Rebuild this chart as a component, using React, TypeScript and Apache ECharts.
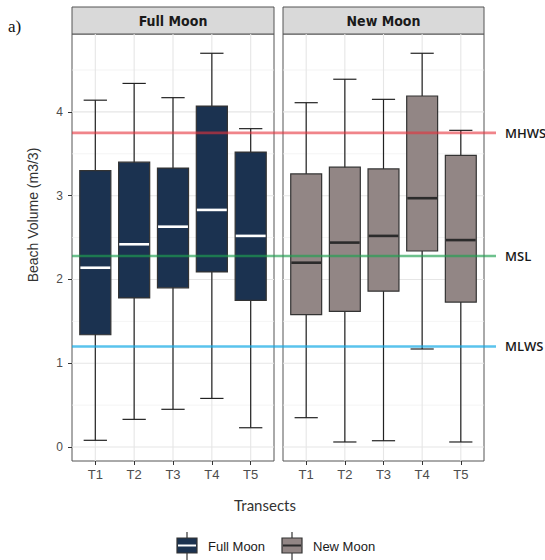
import React, { useEffect, useRef } from "react";
import * as echarts from "echarts";

// ---- data ----
const transects = ["T1", "T2", "T3", "T4", "T5"];
const fullMin = [0.08, 0.33, 0.45, 0.58, 0.23];
const fullQ1 = [1.34, 1.78, 1.9, 2.09, 1.75];
const fullMed = [2.14, 2.42, 2.63, 2.83, 2.52];
const fullQ3 = [3.3, 3.4, 3.33, 4.07, 3.52];
const fullMax = [4.14, 4.34, 4.17, 4.7, 3.8];

const newMin = [0.35, 0.06, 0.075, 1.17, 0.06];
const newQ1 = [1.58, 1.62, 1.86, 2.34, 1.73];
const newMed = [2.2, 2.44, 2.52, 2.97, 2.47];
const newQ3 = [3.26, 3.34, 3.32, 4.19, 3.48];
const newMax = [4.11, 4.39, 4.15, 4.7, 3.78];

const panelNames = ["Full Moon", "New Moon"];
const yTicks = [0, 1, 2, 3, 4];
const yMinorGrid = [0.5, 1.5, 2.5, 3.5, 4.5];
const refNames = ["MHWS", "MSL", "MLWS"];
const refValues = [3.75, 2.28, 1.2];

// ---- styling ----
const Y_MIN = -0.167;
const Y_MAX = 4.93;
const X_MIN = 0.4;
const X_MAX = 5.6;
const refColors = ["rgba(230,50,60,0.6)", "rgba(30,160,80,0.65)", "rgba(20,170,230,0.7)"];
const fills = ["#1b3250", "#928685"];
const medColors = ["#ffffff", "#2b2b2b"];
const sans = '"Liberation Sans", Arial, sans-serif';
const narrow = '"Liberation Sans Narrow", "DejaVu Sans Condensed", sans-serif';

const xCats = transects.map((_, i) => i + 1);

function boxData(mins: number[], q1: number[], med: number[], q3: number[], max: number[]) {
  return xCats.map((x, i) => [x, mins[i], q1[i], med[i], q3[i], max[i]]);
}

const gridData = [
  ...yTicks.map((v) => [0, v, 1]),
  ...yMinorGrid.map((v) => [0, v, 0]),
  ...xCats.map((v) => [1, v, 1]),
];

function gridSeries(idx: number) {
  return {
    type: "custom",
    xAxisIndex: idx,
    yAxisIndex: idx,
    z: 1,
    silent: true,
    data: gridData,
    encode: { x: -1, y: -1 },
    renderItem: (params: any, api: any) => {
      const kind = api.value(0);
      const v = api.value(1);
      const major = api.value(2) === 1;
      let p1, p2;
      if (kind === 0) {
        p1 = api.coord([X_MIN, v]);
        p2 = api.coord([X_MAX, v]);
      } else {
        p1 = api.coord([v, Y_MIN]);
        p2 = api.coord([v, Y_MAX]);
      }
      return {
        type: "line",
        shape: { x1: p1[0], y1: p1[1], x2: p2[0], y2: p2[1] },
        style: { stroke: major ? "#e6e6e6" : "#efefef", lineWidth: major ? 1.1 : 0.7 },
      };
    },
  };
}

function boxSeries(idx: number, data: number[][]) {
  return {
    type: "custom",
    name: panelNames[idx],
    xAxisIndex: idx,
    yAxisIndex: idx,
    z: 3,
    data,
    encode: { x: 0, y: [1, 2, 3, 4, 5] },
    renderItem: (params: any, api: any) => {
      const x = api.value(0);
      const unit = api.size([1, 0])[0];
      const pMin = api.coord([x, api.value(1)]);
      const pQ1 = api.coord([x, api.value(2)]);
      const pMed = api.coord([x, api.value(3)]);
      const pQ3 = api.coord([x, api.value(4)]);
      const pMax = api.coord([x, api.value(5)]);
      const cx = pMin[0];
      const bw = unit * 0.8;
      const cw = unit * 0.6;
      const wStyle = { stroke: "#222", lineWidth: 1.2 };
      return {
        type: "group",
        children: [
          { type: "line", shape: { x1: cx, y1: pMax[1], x2: cx, y2: pMin[1] }, style: wStyle },
          { type: "line", shape: { x1: cx - cw / 2, y1: pMax[1], x2: cx + cw / 2, y2: pMax[1] }, style: wStyle },
          { type: "line", shape: { x1: cx - cw / 2, y1: pMin[1], x2: cx + cw / 2, y2: pMin[1] }, style: wStyle },
          {
            type: "rect",
            shape: { x: cx - bw / 2, y: pQ3[1], width: bw, height: pQ1[1] - pQ3[1] },
            style: { fill: fills[idx], stroke: "#333", lineWidth: 1.2 },
          },
          {
            type: "line",
            shape: { x1: cx - bw / 2 + 0.6, y1: pMed[1], x2: cx + bw / 2 - 0.6, y2: pMed[1] },
            style: { stroke: medColors[idx], lineWidth: 2.6 },
          },
        ],
      };
    },
  };
}

function xAxis(idx: number) {
  return {
    type: "value",
    gridIndex: idx,
    min: X_MIN,
    max: X_MAX,
    axisLine: { show: false, onZero: false },
    axisTick: { show: true, customValues: xCats, length: 4, lineStyle: { color: "#333", width: 1 } },
    axisLabel: {
      show: true,
      customValues: xCats,
      formatter: (v: number) => transects[Math.round(v) - 1] ?? "",
      margin: 7,
      fontSize: 13,
      color: "#4d4d4d",
      fontFamily: sans,
    },
    splitLine: { show: false },
  };
}

function yAxis(idx: number, labels: boolean) {
  return {
    type: "value",
    gridIndex: idx,
    min: Y_MIN,
    max: Y_MAX,
    axisLine: { show: false, onZero: false },
    axisTick: { show: labels, customValues: yTicks, length: 4, lineStyle: { color: "#333", width: 1 } },
    axisLabel: {
      show: labels,
      customValues: yTicks,
      margin: 9,
      fontSize: 12,
      color: "#4d4d4d",
      fontFamily: sans,
    },
    splitLine: { show: false },
  };
}

function strip(x: number, w: number, label: string) {
  return {
    type: "group",
    children: [
      { type: "rect", shape: { x, y: 7, width: w, height: 27 }, style: { fill: "#d9d9d9", stroke: "#555", lineWidth: 1 } },
      {
        type: "text",
        x: x + w / 2,
        y: 21,
        style: { text: label, align: "center", verticalAlign: "middle", font: `bold 14px ${narrow}`, fill: "#1a1a1a" },
      },
    ],
  };
}

function legendKey(x: number, idx: number, label: string) {
  const w = 20;
  const cx = x + w / 2;
  return {
    type: "group",
    children: [
      { type: "line", shape: { x1: cx, y1: 532, x2: cx, y2: 560 }, style: { stroke: "#333", lineWidth: 1.2 } },
      { type: "rect", shape: { x, y: 538, width: w, height: 15 }, style: { fill: fills[idx], stroke: "#333", lineWidth: 1.2 } },
      { type: "line", shape: { x1: x + 1, y1: 545.5, x2: x + w - 1, y2: 545.5 }, style: { stroke: medColors[idx], lineWidth: 2 } },
      {
        type: "text",
        x: x + w + 11,
        y: 546,
        style: { text: label, align: "left", verticalAlign: "middle", font: `13px ${sans}`, fill: "#1a1a1a" },
      },
    ],
  };
}

export default function App() {
  const ref = useRef<HTMLDivElement>(null);
  useEffect(() => {
    document.body.style.margin = "0";
    if (!ref.current) return;
    const chart = echarts.init(ref.current, undefined, { renderer: "svg" });
    const option: any = {
      animation: false,
      backgroundColor: "#ffffff",
      grid: [
        { left: 72, top: 34, width: 202, height: 427, show: true, borderColor: "#555", borderWidth: 1, backgroundColor: "#fff" },
        { left: 283, top: 34, width: 201, height: 427, show: true, borderColor: "#555", borderWidth: 1, backgroundColor: "#fff" },
        { left: 72, top: 34, width: 424, height: 427, show: false },
      ],
      xAxis: [xAxis(0), xAxis(1), { type: "value", gridIndex: 2, min: 0, max: 1, show: false }],
      yAxis: [yAxis(0, true), yAxis(1, false), { type: "value", gridIndex: 2, min: Y_MIN, max: Y_MAX, show: false }],
      series: [
        gridSeries(0),
        gridSeries(1),
        boxSeries(0, boxData(fullMin, fullQ1, fullMed, fullQ3, fullMax)),
        boxSeries(1, boxData(newMin, newQ1, newMed, newQ3, newMax)),
        ...refNames.map((name, i) => ({
          type: "line",
          name,
          xAxisIndex: 2,
          yAxisIndex: 2,
          z: 10,
          silent: true,
          symbol: "none",
          data: [
            [0, refValues[i]],
            [1, refValues[i]],
          ],
          lineStyle: { color: refColors[i], width: 2.6 },
          endLabel: {
            show: true,
            formatter: name,
            distance: 9,
            color: "#1a1a1a",
            fontSize: 13,
            fontWeight: 600,
            fontFamily: '"Open Sans", sans-serif',
          },
        })),
      ],
      graphic: [
        strip(72, 202, panelNames[0]),
        strip(283, 201, panelNames[1]),
        {
          type: "text",
          x: 8,
          y: 26,
          style: { text: "a)", align: "left", verticalAlign: "middle", font: '17px "Liberation Serif", "DejaVu Serif", serif', fill: "#111" },
        },
        {
          type: "text",
          x: 33,
          y: 215,
          rotation: Math.PI / 2,
          style: { text: "Beach Volume (m3/3)", align: "center", verticalAlign: "middle", font: `14px ${sans}`, fill: "#333" },
        },
        {
          type: "text",
          x: 265,
          y: 505,
          style: { text: "Transects", align: "center", verticalAlign: "middle", font: "15px Lato, sans-serif", fill: "#333" },
        },
        legendKey(177, 0, panelNames[0]),
        legendKey(282, 1, panelNames[1]),
      ],
    };
    chart.setOption(option);
    return () => chart.dispose();
  }, []);
  return <div ref={ref} style={{ width: 545, height: 560 }} />;
}
